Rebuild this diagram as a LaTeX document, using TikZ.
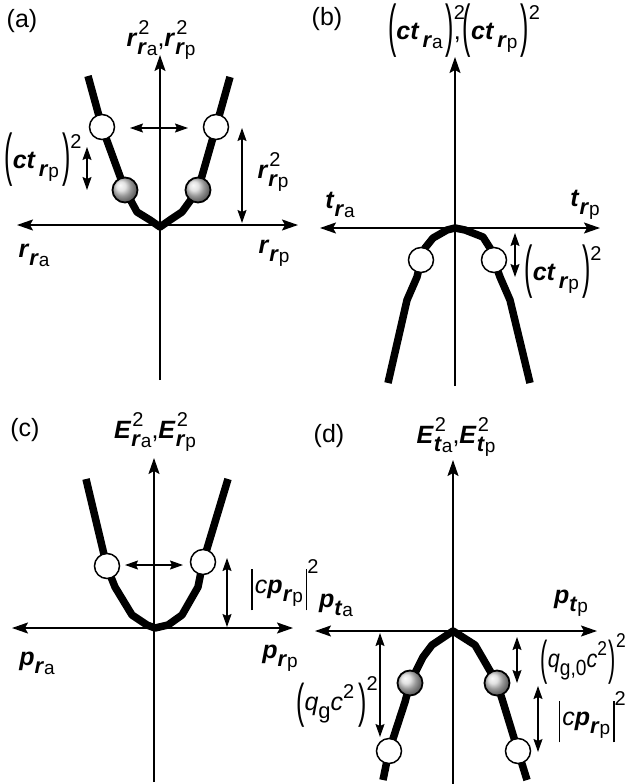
\documentclass[tikz,border=0pt]{standalone}
\usepackage{fontspec}
\setmainfont{Liberation Sans}
\usepackage{graphicx}
\usetikzlibrary{arrows.meta}
\newcommand\bi[1]{\textbf{\textit{#1}}}
\newcommand\mySub[1]{\raisebox{-8pt}{\fontsize{22pt}{22pt}\selectfont #1}}
\newcommand\mySubSub[1]{\raisebox{-1pt}{\fontsize{19pt}{19pt}\selectfont #1}}
\newcommand\mySup[1]{\raisebox{12.5pt}{\fontsize{20pt}{20pt}\selectfont #1}}
\newcommand\mySubSup[2]{\makebox[0pt][l]{\kern1pt\mySup{#2}}\mySub{#1}}
\newcommand\myParen[2]{\raisebox{-6.5pt}{\scalebox{1}[#1]{#2}}}
\newcommand\myBigSup[1]{\raisebox{20pt}{\fontsize{20pt}{20pt}\selectfont #1}}
\newcommand\myBar{\rule[-17pt]{1.5pt}{41pt}}
\tikzset{
  lbl/.style={inner sep=0pt, font=\fontsize{25pt}{25pt}\selectfont},
  axis/.style={line width=1.8pt, -{Stealth[length=16pt,width=11pt,inset=3pt]}},
  haxis/.style={line width=1.8pt, {Stealth[length=16pt,width=11pt,inset=3pt]}-{Stealth[length=16pt,width=11pt,inset=3pt]}},
  dbl/.style={line width=1.4pt, {Stealth[length=13pt,width=9pt,inset=2pt]}-{Stealth[length=13pt,width=9pt,inset=2pt]}},
  curve/.style={line width=7.5pt, line join=round},
  wball/.style={circle, draw, line width=1.5pt, fill=white, minimum size=25pt, inner sep=0pt},
  gball/.style={circle, draw=black, line width=1.8pt, shading=ball, ball color=gray!30, minimum size=25pt, inner sep=0pt}
}
\begin{document}
\begin{tikzpicture}[x=1pt,y=-1pt]
\useasboundingbox (0,0) rectangle (625,784);
\fill[white] (0,0) rectangle (625,784);
% ---------- (a) ----------
\coordinate (aL) at (17,225); \coordinate (aR) at (298,225);
\coordinate (aB) at (160,380); \coordinate (aT) at (160,55);
\draw[haxis] (aL) -- (aR);
\draw[axis] (aB) -- (aT);
\draw[curve] (88,76) -- (102,127) -- (125,190) -- (137,212) -- (150,220) -- (160,227) -- (170,220) -- (182,212) -- (198,190) -- (216,127) -- (230,77);
\node[wball] (aw1) at (102,127) {};
\node[wball] (aw2) at (216,127) {};
\node[gball] (ag1) at (125,190) {};
\node[gball] (ag2) at (198,190) {};
\coordinate (ah1) at (130,128); \coordinate (ah2) at (188,128);
\draw[dbl] (ah1) -- (ah2);
\coordinate (av1) at (242,128); \coordinate (av2) at (242,223);
\draw[dbl] (av1) -- (av2);
\coordinate (as1) at (87,147); \coordinate (as2) at (87,190);
\draw[dbl] (as1) -- (as2);
\node[lbl] (alab) at (22,21) {(a)};
\node[lbl] (atop) at (161,40) {\bi{r}\mySubSup{\bi{r}\mySubSub{a}}{2},\bi{r}\mySubSup{\bi{r}\mySubSub{p}}{2}};
\node[lbl] (actl) at (43,160) {\myParen{2.3}{(}\bi{ct}\kern3pt\mySub{\bi{r}\mySubSub{p}}\kern3pt\myParen{2.3}{)}\myBigSup{2}};
\node[lbl] (arr) at (273,172) {\bi{r}\mySubSup{\bi{r}\mySubSub{p}}{2}};
\node[lbl] (ara) at (34,255) {\bi{r}\mySub{\bi{r}\mySubSub{a}}};
\node[lbl] (arp) at (274,253) {\bi{r}\mySub{\bi{r}\mySubSub{p}}};
% ---------- (b) ----------
\coordinate (bL) at (320,228); \coordinate (bR) at (600,228);
\coordinate (bB) at (455,386); \coordinate (bT) at (455,57);
\draw[haxis] (bL) -- (bR);
\draw[axis] (bB) -- (bT);
\draw[curve] (388,383) -- (407,300) -- (417,277) -- (421,260) -- (425,248) -- (433,238) -- (447,230) -- (455,228) -- (465,230) -- (483,237) -- (490,248) -- (494,260) -- (500,277) -- (510,300) -- (530,383);
\node[wball] (bw1) at (421,260) {};
\node[wball] (bw2) at (494,260) {};
\coordinate (bv1) at (515,233); \coordinate (bv2) at (515,277);
\draw[dbl] (bv1) -- (bv2);
\node[lbl] (blab) at (327,19) {(b)};
\node[lbl] (btop) at (464,31) {\myParen{2.3}{(}\bi{ct}\kern3pt\mySub{\bi{r}\mySubSub{a}}\kern3pt\myParen{2.3}{)}\makebox[0pt][l]{\myBigSup{2}},\kern2pt\myParen{2.3}{(}\bi{ct}\kern3pt\mySub{\bi{r}\mySubSub{p}}\kern3pt\myParen{2.3}{)}\myBigSup{2}};
\node[lbl] (bta) at (340,205) {\bi{t}\mySub{\bi{r}\mySubSub{a}}};
\node[lbl] (btp) at (585,205) {\bi{t}\mySub{\bi{r}\mySubSub{p}}};
\node[lbl] (bct) at (563,272) {\myParen{2.3}{(}\bi{ct}\kern3pt\mySub{\bi{r}\mySubSub{p}}\kern3pt\myParen{2.3}{)}\myBigSup{2}};
% ---------- (c) ----------
\coordinate (cL) at (12,628); \coordinate (cR) at (293,628);
\coordinate (cB) at (154,782); \coordinate (cT) at (154,458);
\draw[haxis] (cL) -- (cR);
\draw[axis] (cB) -- (cT);
\draw[curve] (86,479) -- (107,567) -- (115,587) -- (132,615) -- (147,625) -- (155,628) -- (168,625) -- (182,615) -- (198,587) -- (203,562) -- (228,479);
\node[wball] (cw1) at (107,566) {};
\node[wball] (cw2) at (203,562) {};
\coordinate (ch1) at (125,565); \coordinate (ch2) at (183,565);
\draw[dbl] (ch1) -- (ch2);
\coordinate (cv1) at (227,558); \coordinate (cv2) at (227,627);
\draw[dbl] (cv1) -- (cv2);
\node[lbl] (clab) at (25,430) {(c)};
\node[lbl] (ctop) at (155,432) {\bi{E}\mySubSup{\bi{r}\mySubSub{a}}{2},\bi{E}\mySubSup{\bi{r}\mySubSub{p}}{2}};
\node[lbl] (ccp) at (285,585) {\myBar\kern2pt\textit{c}\bi{p}\mySub{\bi{r}\mySubSub{p}}\kern3pt\myBar\myBigSup{2}};
\node[lbl] (cpa) at (37,663) {\bi{p}\mySub{\bi{r}\mySubSub{a}}};
\node[lbl] (cpp) at (280,658) {\bi{p}\mySub{\bi{r}\mySubSub{p}}};
% ---------- (d) ----------
\coordinate (dL) at (315,631); \coordinate (dR) at (597,631);
\coordinate (dB) at (453,784); \coordinate (dT) at (453,460);
\draw[haxis] (dL) -- (dR);
\draw[axis] (dB) -- (dT);
\draw[curve] (383,780) -- (389,751) -- (405,702) -- (410,683) -- (423,657) -- (432,645) -- (453,631) -- (475,645) -- (482,657) -- (497,683) -- (503,702) -- (518,751) -- (527,780);
\node[gball] (dg1) at (410,683) {};
\node[gball] (dg2) at (497,683) {};
\node[wball] (dw1) at (389,751) {};
\node[wball] (dw2) at (518,751) {};
\coordinate (dv1) at (380,633); \coordinate (dv2) at (380,737);
\draw[dbl] (dv1) -- (dv2);
\coordinate (ds1) at (517,637); \coordinate (ds2) at (517,683);
\draw[dbl] (ds1) -- (ds2);
\coordinate (dr1) at (538,686); \coordinate (dr2) at (538,752);
\draw[dbl] (dr1) -- (dr2);
\node[lbl] (dlab) at (329,436) {(d)};
\node[lbl] (dtop) at (456,437) {\bi{E}\mySubSup{\bi{t}\mySubSub{a}}{2},\bi{E}\mySubSup{\bi{t}\mySubSub{p}}{2}};
\node[lbl] (dpa) at (336,605) {\bi{p}\mySub{\bi{t}\mySubSub{a}}};
\node[lbl] (dpp) at (571,603) {\bi{p}\mySub{\bi{t}\mySubSub{p}}};
\node[lbl, anchor=east] (dq0) at (626,659) {\scalebox{0.87}[1]{\myParen{1.9}{(}\textit{q}\mySub{g,0}\textit{c}\mySup{2}\kern2pt\myParen{1.9}{)}\myBigSup{2}}};
\node[lbl, anchor=east] (dcp) at (626,717) {\myBar\kern2pt\textit{c}\bi{p}\mySub{\bi{r}\mySubSub{p}}\kern3pt\myBar\myBigSup{2}};
\node[lbl, anchor=east] (dqg) at (378,702) {\myParen{1.9}{(}\textit{q}\mySub{g}\textit{c}\mySup{2}\kern4pt\myParen{1.9}{)}\myBigSup{2}};
\end{tikzpicture}
\end{document}
